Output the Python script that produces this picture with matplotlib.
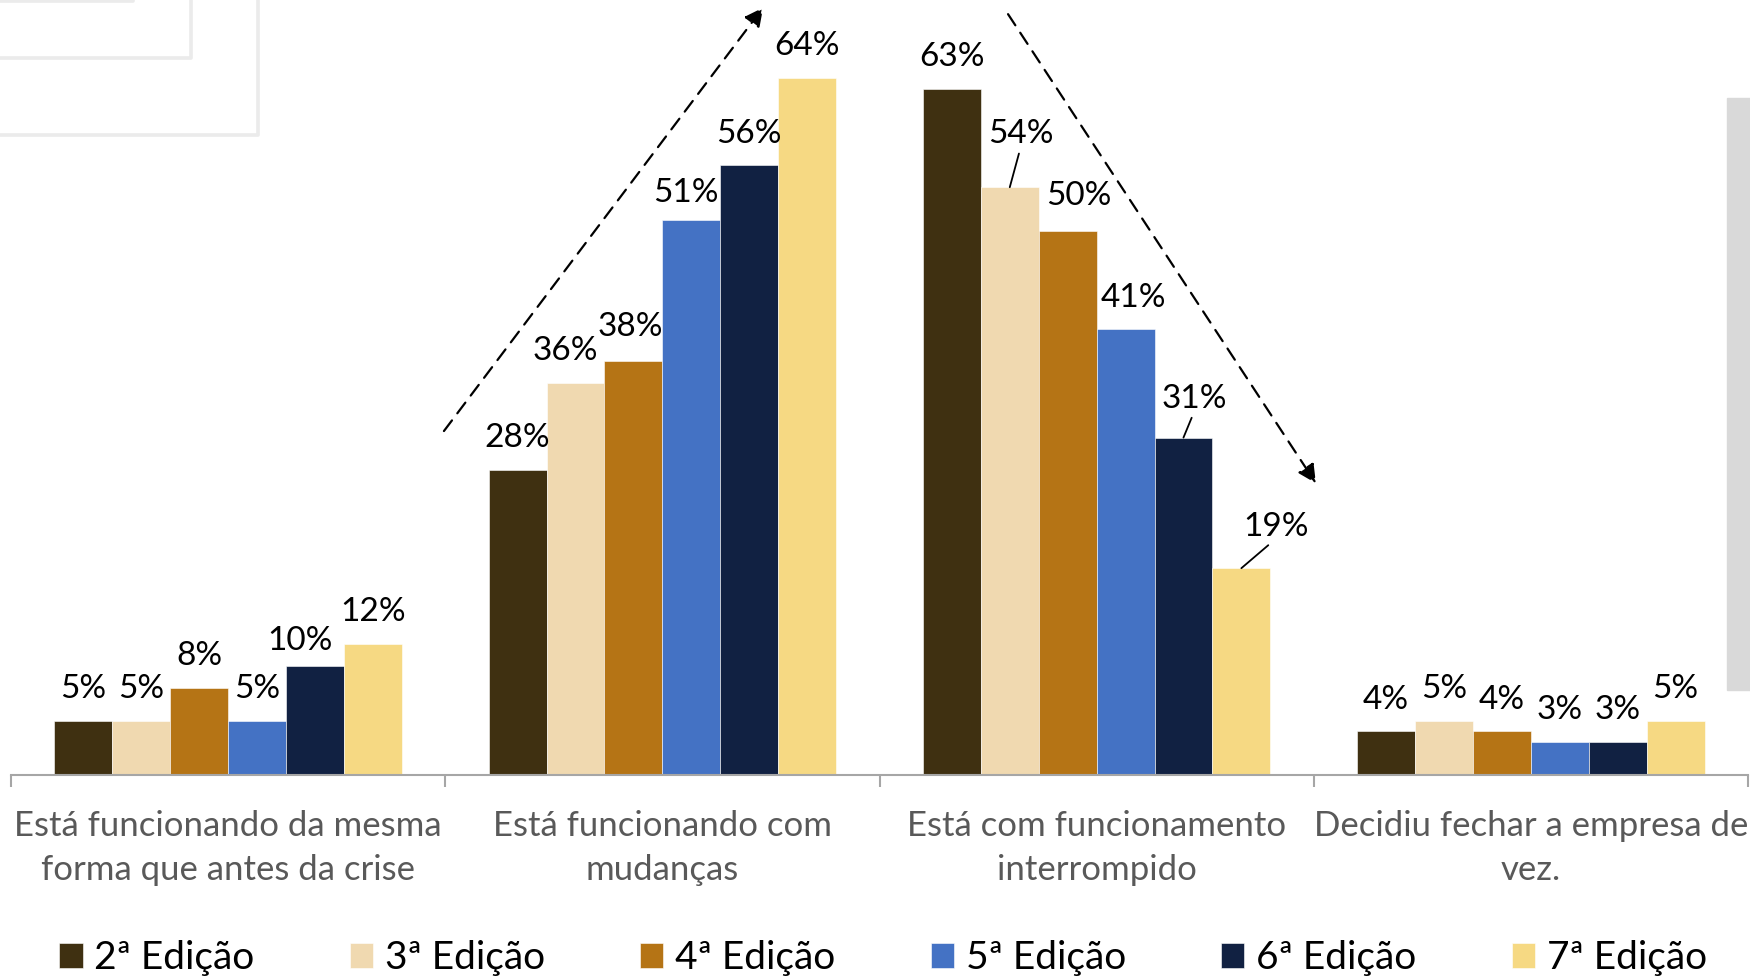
import matplotlib
matplotlib.use('Agg')
import matplotlib.pyplot as plt
from matplotlib.lines import Line2D
from matplotlib.patches import Rectangle
import numpy as np

plt.rcParams['font.family'] = ['Lato', 'DejaVu Sans']

categories = [
    "Está funcionando da mesma\nforma que antes da crise",
    "Está funcionando com\nmudanças",
    "Está com funcionamento\ninterrompido",
    "Decidiu fechar a empresa de\nvez.",
]
editions = ["2ª Edição", "3ª Edição", "4ª Edição", "5ª Edição", "6ª Edição", "7ª Edição"]

ed2 = [5, 28, 63, 4]
ed3 = [5, 36, 54, 5]
ed4 = [8, 38, 50, 4]
ed5 = [5, 51, 41, 3]
ed6 = [10, 56, 31, 3]
ed7 = [12, 64, 19, 5]
series = [ed2, ed3, ed4, ed5, ed6, ed7]

colors = ['#3f3011', '#f0d9b0', '#b57415', '#4472c4', '#112142', '#f6d983']

# label offsets in points (series, category) -> (dx, dy, leader line)
nudges = {
    (4, 0): (-11, 18, False),
    (1, 1): (-7, 23, False),
    (2, 1): (-2, 25, False),
    (3, 1): (-4, 19, False),
    (1, 2): (8, 38, True),
    (2, 2): (8, 25, False),
    (3, 2): (6, 22, False),
    (4, 2): (8, 28, True),
    (5, 2): (25, 30, True),
}

W, H = 1750, 980
fig = plt.figure(figsize=(W / 100, H / 100), dpi=100)

# decorative frames in the top-left corner
for fx, fy in [(133, 1.5), (191, 58), (258, 135)]:
    fig.add_artist(Line2D([0, fx / W, fx / W], [1 - fy / H, 1 - fy / H, 1.01],
                          color='#ebebeb', lw=2.6, transform=fig.transFigure))
fig.add_artist(Rectangle((1727 / W, 1 - 690 / H), 30 / W, (690 - 98) / H,
                         color='#d9d9d9', transform=fig.transFigure, zorder=0))

ax = fig.add_axes([11 / W, 1 - 775 / H, 1737 / W, 775 / H])
ax.patch.set_alpha(0)
ax.set_xlim(-0.5, 3.5)
ax.set_ylim(0, 71.2)

width = 0.8 / 6
for i, (vals, color, name) in enumerate(zip(series, colors, editions)):
    x = np.arange(len(categories)) - 0.4 + width * (i + 0.5)
    ax.bar(x, vals, width, color=color, label=name, edgecolor='white', linewidth=0.4)
    for j, (xx, v) in enumerate(zip(x, vals)):
        dx, dy, leader = nudges.get((i, j), (0, 23, False))
        props = None
        if leader:
            props = dict(arrowstyle='-', color='black', lw=1.3,
                         shrinkA=1, shrinkB=0, relpos=(0.5, 0.1))
        ax.annotate(f"{v}%", xy=(xx, v), xytext=(dx, dy), textcoords='offset points',
                    ha='center', va='center', fontsize=24, color='black',
                    arrowprops=props)

# trend arrows
arrow_kw = dict(arrowstyle='-|>', color='black', lw=1.6, linestyle=(0, (6, 4)),
                mutation_scale=28, shrinkA=0, shrinkB=0)
ax.annotate('', xy=(1.232, 70.5), xytext=(0.497, 31.6), arrowprops=arrow_kw,
            annotation_clip=False)
ax.annotate('', xy=(2.505, 26.8), xytext=(1.796, 69.9), arrowprops=arrow_kw,
            annotation_clip=False)

for s in ['top', 'right', 'left']:
    ax.spines[s].set_visible(False)
ax.spines['bottom'].set_color('#a6a6a6')
ax.spines['bottom'].set_linewidth(1.5)
ax.set_yticks([])
ax.set_xticks(range(len(categories)))
ax.set_xticklabels(categories, fontsize=25, color='#595959', linespacing=1.48)
ax.tick_params(axis='x', which='major', length=0, pad=25)
ax.set_xticks(np.arange(-0.5, 4, 1), minor=True)
ax.tick_params(axis='x', which='minor', length=8.5, width=1.5, color='#a6a6a6')

fig.legend(loc='center', bbox_to_anchor=(883 / W, 1 - 958 / H), ncol=6, frameon=False,
           fontsize=28, handlelength=0.6, handleheight=0.6, handletextpad=0.3,
           columnspacing=2.45)

fig.savefig('out.png', dpi=100)
